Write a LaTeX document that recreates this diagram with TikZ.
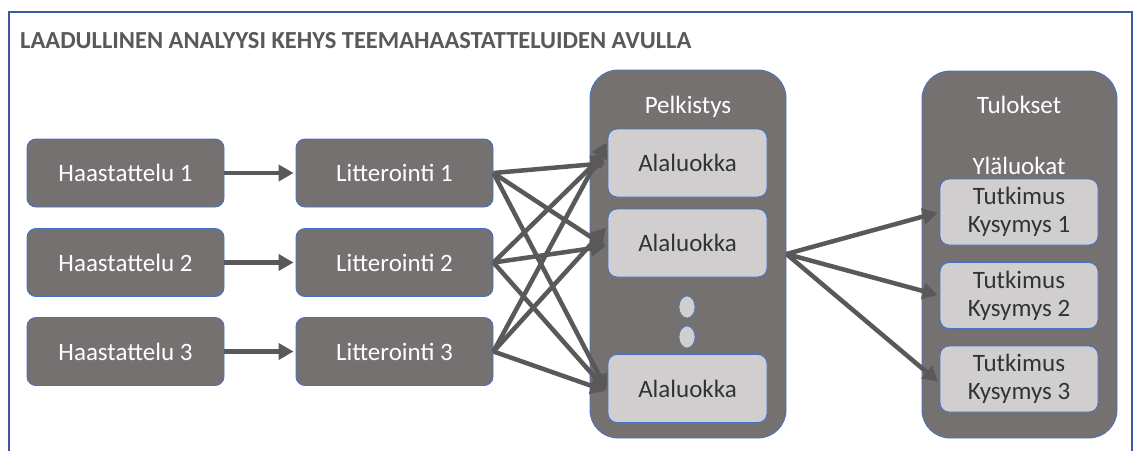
\documentclass[tikz,border=0pt]{standalone}
\usepackage{fontspec}
\setmainfont{Carlito}
\usetikzlibrary{arrows.meta,shapes.geometric}
\definecolor{boxgray}{HTML}{767171}
\definecolor{lightgray}{HTML}{D0CECE}
\definecolor{edgeblue}{HTML}{4472C4}
\definecolor{frameblue}{HTML}{3B5C9C}
\definecolor{arrowgray}{HTML}{595959}
\definecolor{titlegray}{HTML}{595959}
\definecolor{darktext}{HTML}{333333}
\tikzset{
  darkbox/.style={draw=edgeblue, line width=0.9pt, fill=boxgray, rounded corners=9pt,
    minimum width=197pt, minimum height=68pt, inner sep=0pt, text=white,
    font=\fontsize{25}{29}\selectfont},
  lightbox/.style={draw=edgeblue, line width=0.9pt, fill=lightgray, rounded corners=9pt,
    minimum width=159pt, minimum height=68pt, inner sep=0pt, text=darktext,
    font=\fontsize{25}{29}\selectfont, align=center},
  qbox/.style={lightbox, minimum width=158pt, minimum height=66pt,
    font=\fontsize{25}{28}\selectfont},
  container/.style={draw=edgeblue, line width=0.9pt, fill=boxgray, rounded corners=28pt,
    minimum width=196pt, minimum height=368pt, inner sep=0pt},
  conttitle/.style={text=white, font=\fontsize{25}{29}\selectfont, inner sep=0pt},
  dotnode/.style={ellipse, draw=edgeblue, line width=0.6pt, fill=lightgray,
    minimum width=16pt, minimum height=22pt, inner sep=0pt},
  conn/.style={draw=arrowgray, line width=4.5pt,
    -{Triangle[length=15pt,width=16pt]}, shorten >=2pt}
}
\begin{document}
\begin{tikzpicture}[x=1pt,y=-1pt]
\useasboundingbox (0,0) rectangle (1134,450);
\clip (0,0) rectangle (1134,450);
\fill[white] (0,0) rectangle (1134,450);
\draw[frameblue, line width=2pt] (9,470) -- (9,12) -- (1132,12) -- (1132,470);
\node[anchor=base west, inner sep=0pt, text=titlegray, font=\fontsize{24.5}{28}\selectfont\bfseries]
  (title) at (20,48) {LAADULLINEN ANALYYSI KEHYS TEEMAHAASTATTELUIDEN AVULLA};

% left columns
\node[darkbox] (H1) at (125.5,173) {Haastattelu 1};
\node[darkbox] (H2) at (125.5,262.5) {Haastattelu 2};
\node[darkbox] (H3) at (125.5,351.5) {Haastattelu 3};
\node[darkbox] (L1) at (394.5,173) {Litterointi 1};
\node[darkbox] (L2) at (394.5,262.5) {Litterointi 2};
\node[darkbox] (L3) at (394.5,351.5) {Litterointi 3};

% containers
\node[container] (P) at (688,254) {};
\node[container, minimum width=195pt, minimum height=367pt] (T) at (1019.5,254.5) {};
\node[conttitle] (Ptitle) at (688,107) {Pelkistys};
\node[conttitle] (Ttitle) at (1019,105) {Tulokset};
\node[conttitle] (Ylt) at (1019,166) {Yläluokat};

\node[lightbox] (A1) at (687.5,163) {Alaluokka};
\node[lightbox] (A2) at (687.5,243) {Alaluokka};
\node[lightbox] (A3) at (687.5,388.5) {Alaluokka};
\node[dotnode] (D1) at (687,307) {};
\node[dotnode] (D2) at (687,337) {};

\node[qbox] (T1) at (1019,212) {Tutkimus\\Kysymys 1};
\node[qbox] (T2) at (1019,295.5) {Tutkimus\\Kysymys 2};
\node[qbox] (T3) at (1019,379) {Tutkimus\\Kysymys 3};

% arrows
\draw[conn] (H1) -- (L1);
\draw[conn] (H2) -- (L2);
\draw[conn] (H3) -- (L3);

\draw[conn] (L1.east) -- ([yshift=0pt]A1.west);
\draw[conn] (L1.east) -- ([yshift=-5pt]A2.west);
\draw[conn] (L1.east) -- ([yshift=-3pt]A3.west);
\draw[conn] (L2.east) -- ([yshift=12pt]A1.west);
\draw[conn] (L2.east) -- ([yshift=-3pt]A2.west);
\draw[conn] (L2.east) -- ([yshift=-3pt]A3.west);
\draw[conn] (L3.east) -- ([yshift=22pt]A1.west);
\draw[conn] (L3.east) -- ([yshift=17pt]A2.west);
\draw[conn] (L3.east) -- ([yshift=-3pt]A3.west);

\draw[conn] (P.east) -- (T1.west);
\draw[conn] (P.east) -- (T2.west);
\draw[conn] (P.east) -- ([yshift=-4pt]T3.west);
\end{tikzpicture}
\end{document}
